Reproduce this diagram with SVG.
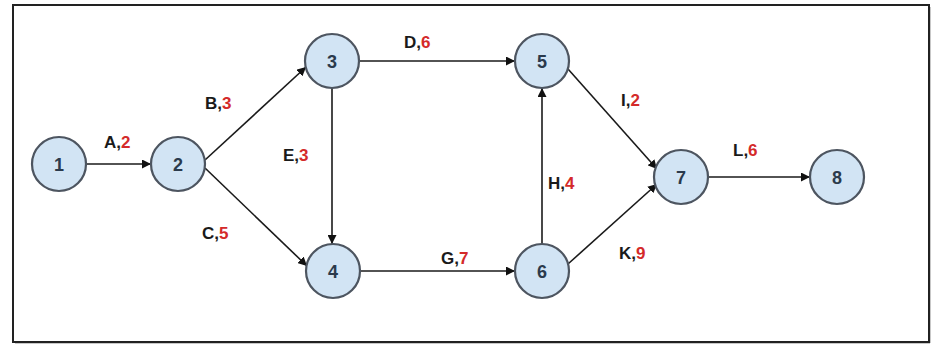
<svg xmlns="http://www.w3.org/2000/svg" width="942" height="350" viewBox="0 0 942 350">
<style>
.frame{fill:#fff;stroke:#222;stroke-width:2}
.node circle{fill:#d2e4f4;stroke:#4d5560;stroke-width:2.2}
.node text{font-family:"Liberation Sans",Arial,sans-serif;font-weight:bold;font-size:18px;fill:#2b3a4c;text-anchor:middle;dominant-baseline:central}
.edge{stroke:#1a1a1a;stroke-width:1.6;fill:none;marker-end:url(#arr)}
.lbl{font-family:"Liberation Sans",Arial,sans-serif;font-weight:bold;font-size:17px;fill:#1a1a1a}
.num{fill:#d42a2a}
</style>
<defs>
<marker id="arr" viewBox="0 0 10 10" refX="10" refY="5" markerWidth="9" markerHeight="9" markerUnits="userSpaceOnUse" orient="auto">
<path d="M0,0 L10,5 L0,10 z" fill="#111"/>
</marker>
</defs>
<rect class="frame" x="13" y="5" width="916" height="337"/>
<line x1="15" y1="342.5" x2="930" y2="342.5" stroke="#222" stroke-width="1.5"/>
<line x1="929.5" y1="7" x2="929.5" y2="343" stroke="#222" stroke-width="1.5"/>
<g id="connectors">
<line class="edge" x1="86" y1="164" x2="151" y2="164"/>
<line class="edge" x1="205" y1="160" x2="306" y2="67"/>
<line class="edge" x1="205" y1="168" x2="307" y2="266"/>
<line class="edge" x1="359" y1="61" x2="515" y2="61"/>
<line class="edge" x1="332" y1="88" x2="332" y2="244"/>
<line class="edge" x1="360" y1="271" x2="515" y2="271"/>
<line class="edge" x1="542" y1="244" x2="542" y2="88"/>
<line class="edge" x1="568" y1="69" x2="657" y2="169"/>
<line class="edge" x1="568" y1="264" x2="657" y2="184"/>
<line class="edge" x1="708" y1="177" x2="810" y2="177"/>
</g>
<g id="labels">
<text class="lbl" x="104" y="148">A,<tspan class="num">2</tspan></text>
<text class="lbl" x="205" y="109">B,<tspan class="num">3</tspan></text>
<text class="lbl" x="283" y="161">E,<tspan class="num">3</tspan></text>
<text class="lbl" x="202" y="239">C,<tspan class="num">5</tspan></text>
<text class="lbl" x="404" y="48">D,<tspan class="num">6</tspan></text>
<text class="lbl" x="441" y="264">G,<tspan class="num">7</tspan></text>
<text class="lbl" x="548" y="189">H,<tspan class="num">4</tspan></text>
<text class="lbl" x="621" y="106">I,<tspan class="num">2</tspan></text>
<text class="lbl" x="619" y="259">K,<tspan class="num">9</tspan></text>
<text class="lbl" x="733" y="156">L,<tspan class="num">6</tspan></text>
</g>
<g id="n1" class="node"><circle cx="59" cy="164" r="27"/><text x="59" y="165">1</text></g>
<g id="n2" class="node"><circle cx="178" cy="164" r="27"/><text x="178" y="165">2</text></g>
<g id="n3" class="node"><circle cx="332" cy="61" r="27"/><text x="332" y="62">3</text></g>
<g id="n4" class="node"><circle cx="333" cy="271" r="27"/><text x="333" y="272">4</text></g>
<g id="n5" class="node"><circle cx="542" cy="61" r="27"/><text x="542" y="62">5</text></g>
<g id="n6" class="node"><circle cx="542" cy="271" r="27"/><text x="542" y="272">6</text></g>
<g id="n7" class="node"><circle cx="681" cy="177" r="27"/><text x="681" y="178">7</text></g>
<g id="n8" class="node"><circle cx="837" cy="177" r="27"/><text x="837" y="178">8</text></g>
</svg>
